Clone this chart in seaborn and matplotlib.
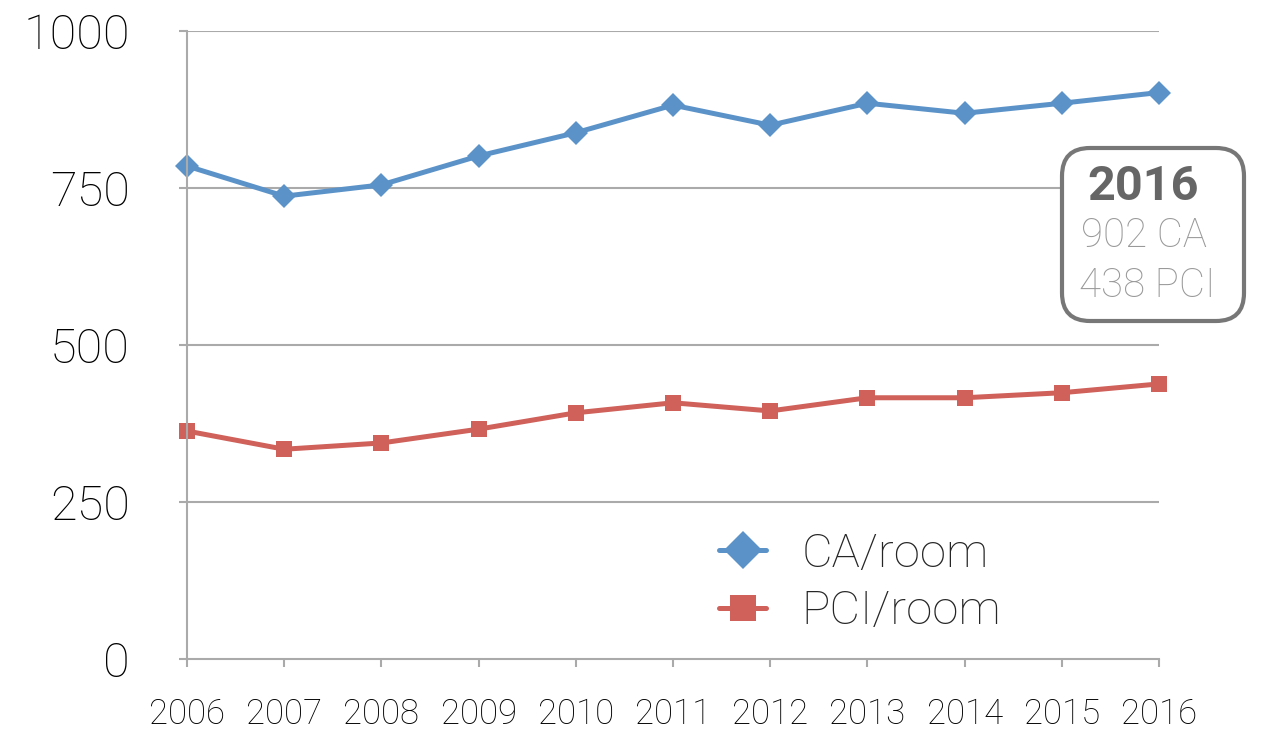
import numpy as np
import pandas as pd
import matplotlib
matplotlib.use("Agg")
import matplotlib.pyplot as plt
from matplotlib.patches import FancyBboxPatch
import seaborn as sns

sns.set_theme(style="white")
plt.rcParams['font.family'] = ['Roboto', 'DejaVu Sans']

years = [2006, 2007, 2008, 2009, 2010, 2011, 2012, 2013, 2014, 2015, 2016]
ca_room = [785, 737, 755, 801, 838, 882, 850, 885, 869, 885, 902]
pci_room = [363, 334, 344, 366, 392, 408, 395, 416, 416, 424, 438]
series_names = ['CA/room', 'PCI/room']
yticks = [0, 250, 500, 750, 1000]

df = pd.DataFrame({
    'year': years * 2,
    'value': ca_room + pci_room,
    'series': [series_names[0]] * len(years) + [series_names[1]] * len(years),
})

blue = '#5B93C9'
red = '#CF605A'
grid = '#AAAAAA'

fig = plt.figure(figsize=(12.63, 7.29), dpi=100)
ax = fig.add_axes([187 / 1263, 70 / 729, 972 / 1263, 628 / 729])

sns.lineplot(data=df, x='year', y='value', hue='series', style='series',
             palette={'CA/room': blue, 'PCI/room': red},
             markers={'CA/room': 'D', 'PCI/room': 's'}, dashes=False,
             linewidth=3.6, markersize=12, markeredgewidth=0, ax=ax, clip_on=False)

ax.set_xlim(2006, 2016)
ax.set_ylim(0, 1000)
ax.set_xticks(years)
ax.set_xticklabels([str(y) for y in years])
ax.set_yticks(yticks)
ax.set_yticklabels([str(v) for v in yticks])
ax.set_xlabel('')
ax.set_ylabel('')

for v in yticks[1:]:
    ax.axhline(v, color=grid, linewidth=1.5, zorder=0)

for s in ['top', 'right']:
    ax.spines[s].set_visible(False)
for s in ['left', 'bottom']:
    ax.spines[s].set_color(grid)
    ax.spines[s].set_linewidth(1.5)

ax.tick_params(axis='y', direction='out', length=6, width=1.5, color=grid,
               labelsize=35, pad=35, left=True)
ax.tick_params(axis='x', direction='out', length=6, width=1.5, color=grid,
               labelsize=25, pad=22, bottom=True)
for lab in ax.get_xticklabels() + ax.get_yticklabels():
    lab.set_fontweight('light')
    lab.set_color('black')

leg = ax.legend(loc='upper left', bbox_to_anchor=(0.523, 0.24), frameon=False,
                fontsize=34, handlelength=1.0, handletextpad=0.75,
                labelspacing=0.28, borderpad=0)
for t in leg.get_texts():
    t.set_fontweight('light')
for h in leg.legend_handles:
    h.set_markersize(19)

# annotation box for 2016
box = FancyBboxPatch((10.62, 4.08), 1.82, 1.73,
                     boxstyle='round,pad=0,rounding_size=0.28',
                     transform=fig.dpi_scale_trans, facecolor='white',
                     edgecolor='#777777', linewidth=3, zorder=5)
fig.patches.append(box)
fig.text(1143 / 1263, 1 - 187 / 729, '2016', ha='center', va='center',
         fontsize=35, fontweight='bold', color='#666666', zorder=6)
fig.text(1144 / 1263, 1 - 236 / 729, '902 CA', ha='center', va='center',
         fontsize=29, fontweight='light', color='#999999', zorder=6)
fig.text(1147 / 1263, 1 - 286 / 729, '438 PCI', ha='center', va='center',
         fontsize=29, fontweight='light', color='#999999', zorder=6)

fig.savefig('out.png', dpi=100)
